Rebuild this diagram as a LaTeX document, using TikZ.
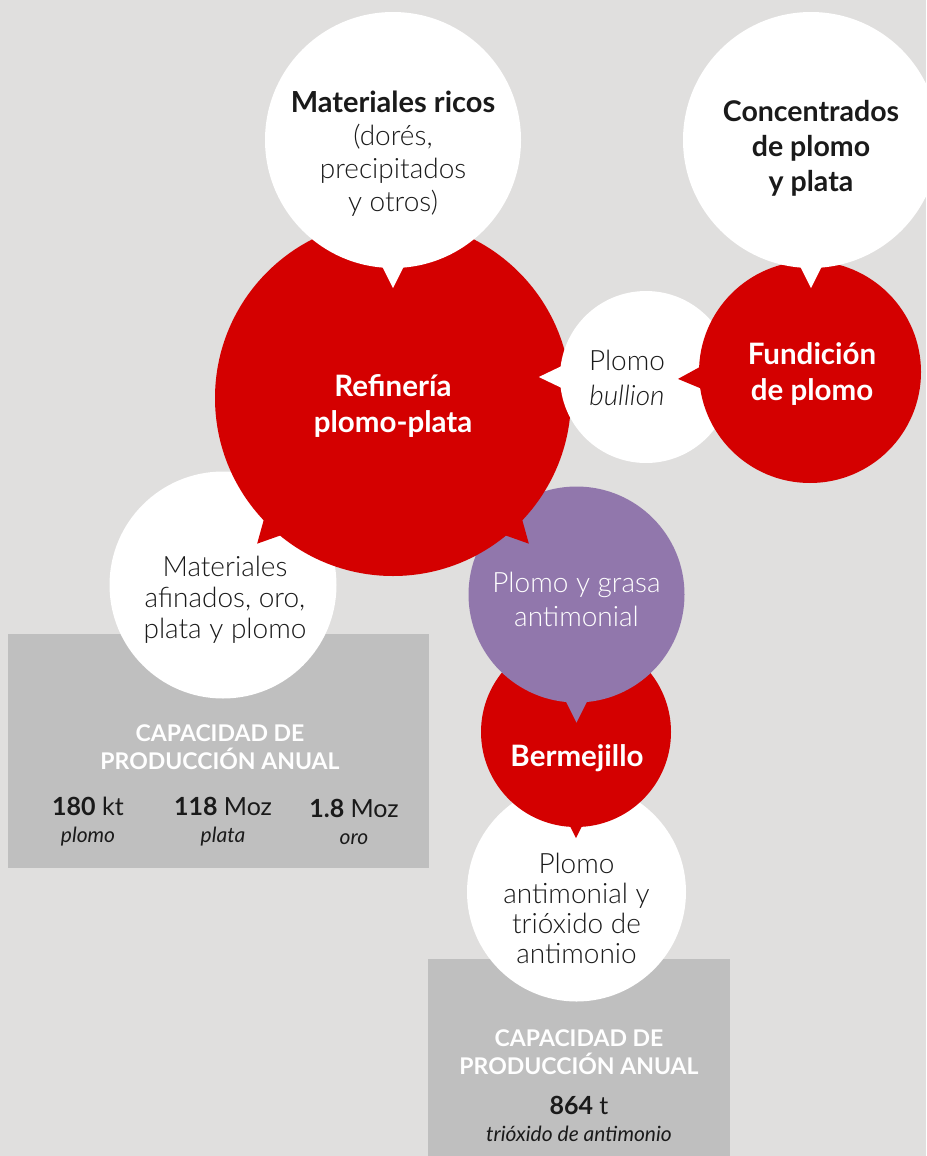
\documentclass[tikz,border=0pt]{standalone}
\usepackage{fontspec}
\setmainfont{Lato}[UprightFont=* Light, ItalicFont=* Light Italic, BoldFont=* Bold, BoldItalicFont=* Bold Italic]
\newfontfamily\latoreg{Lato}
\usetikzlibrary{calc}
\definecolor{pagebg}{HTML}{E0DFDE}
\definecolor{leadred}{HTML}{D40000}
\definecolor{antpurple}{HTML}{9177AC}
\definecolor{capgray}{HTML}{BFBFBF}
\definecolor{inkblack}{HTML}{1A1A1A}
\newcommand{\unitfont}{\fontsize{21}{20}\selectfont\latoreg\itshape}
\newcommand{\bubtail}[5]{%
  \fill[#5] ($(#1.#2)+(#2+180:4)+(#2+90:#3)$) -- ($(#1.#2)+(#2:#4)$) -- ($(#1.#2)+(#2+180:4)+(#2-90:#3)$) -- cycle;}

\begin{document}
\begin{tikzpicture}[x=1pt, y=1pt,
  bub/.style={circle, inner sep=0pt, minimum size=#1},
  capbox/.style={fill=capgray, inner sep=0pt},
  body/.style={align=center, font=\fontsize{28}{32}\selectfont, text=inkblack},
  bold/.style={align=center, font=\fontsize{29.5}{36}\selectfont\bfseries, text=inkblack},
  head/.style={align=center, font=\fontsize{23}{28}\selectfont\bfseries, text=white},
  figure/.style={align=center, font=\fontsize{25}{27}\selectfont\latoreg, text=inkblack}
]
  \useasboundingbox (0,0) rectangle (926,-1156);
  \clip (0,0) rectangle (926,-1156);
  \fill[pagebg] (0,0) rectangle (926,-1156);

  \node[capbox, minimum width=421pt, minimum height=234pt] (cap1) at (218.5,-751) {};
  \node[capbox, minimum width=302pt, minimum height=210pt] (cap2) at (579,-1064) {};

  \node[bub=227pt, fill=white] (afin) at (223,-585) {};
  \node[bub=219pt, fill=white] (trio) at (576.5,-892) {};
  \node[bub=190pt, fill=leadred] (berm) at (576,-732) {};
  \bubtail{berm}{-90}{7.5}{11}{leadred}
  \node[bub=216pt, fill=antpurple] (grasa) at (576.5,-594.5) {};
  \bubtail{grasa}{-90}{12}{20}{antpurple}
  \node[bub=356pt, fill=leadred] (refi) at (393,-398) {};
  \bubtail{refi}{-133}{13}{21}{leadred}
  \bubtail{refi}{-47}{13}{21}{leadred}
  \node[bub=256pt, fill=white] (ricos) at (393,-140) {};
  \bubtail{ricos}{-90}{12}{20}{white}
  \node[bub=172pt, fill=white] (bull) at (646,-377) {};
  \bubtail{bull}{180}{12}{21}{white}
  \node[bub=222pt, fill=leadred] (fund) at (810,-372) {};
  \bubtail{fund}{183}{12}{21}{leadred}
  \node[bub=256pt, fill=white] (conc) at (811,-140) {};
  \bubtail{conc}{-90}{12}{20}{white}

  \node[body, font=\fontsize{28}{33}\selectfont] (ricos-t) at ($(ricos)+(0,-14)$) {{\fontsize{29}{33}\selectfont\bfseries Materiales ricos}\\(dorés,\\precipitados\\y otros)};
  \node[bold, font=\fontsize{28.5}{35}\selectfont\bfseries] (conc-t) at ($(conc)+(0,-8)$) {Concentrados\\de plomo\\y plata};
  \node[bold, text=white] (refi-t) at ($(refi)+(0,-8)$) {Refinería\\plomo-plata};
  \node[body, font=\fontsize{28}{35}\selectfont] (bull-t) at ($(bull)+(-19,-1)$) {Plomo\\\textit{bullion}};
  \node[bold, text=white] (fund-t) at ($(fund)+(2,-2)$) {Fundición\\de plomo};
  \node[body, font=\fontsize{28}{31}\selectfont] (afin-t) at ($(afin)+(2,-15)$) {Materiales\\afinados, oro,\\plata y plomo};
  \node[body, text=white, font=\fontsize{28}{34}\selectfont] (grasa-t) at ($(grasa)+(0,-5)$) {Plomo y grasa\\antimonial};
  \node[bold, text=white] (berm-t) at ($(berm)+(1,-26)$) {Bermejillo};
  \node[body, font=\fontsize{28}{30}\selectfont] (trio-t) at ($(trio)+(0,-16)$) {Plomo\\antimonial y\\trióxido de\\antimonio};

  \node[head] (cap1-h) at (220,-747) {CAPACIDAD DE\\PRODUCCIÓN ANUAL};
  \node[figure] (lead-f) at (88,-822) {\textbf{180} kt\\{\unitfont plomo}};
  \node[figure] (silver-f) at (223,-822) {\textbf{118} Moz\\{\unitfont plata}};
  \node[figure] (gold-f) at (354,-822) {\textbf{1.8} Moz\\{\unitfont oro}};
  \node[head] (cap2-h) at (579,-1052) {CAPACIDAD DE\\PRODUCCIÓN ANUAL};
  \node[figure] (trio-f) at (579,-1119) {\textbf{864} t\\{\unitfont trióxido de antimonio}};
\end{tikzpicture}
\end{document}
